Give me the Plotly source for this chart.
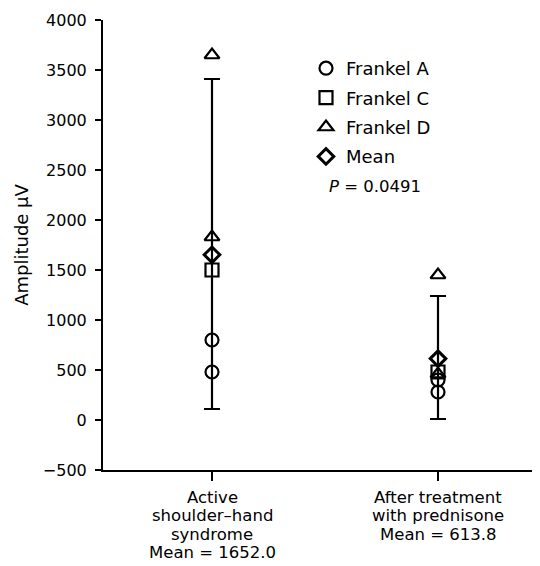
import plotly.graph_objects as go

categories = [["Active", "shoulder\u2013hand", "syndrome", "Mean = 1652.0"],
              ["After treatment", "with prednisone", "Mean = 613.8"]]
cat_pos = [0, 1]

frankel_a = [[800, 480], [400, 280]]
frankel_c = [[1500], [480]]
frankel_d = [[3650, 1830], [1450, 460]]
means = [1652.0, 613.8]
err_top = [3410, 1240]
err_bottom = [110, 10]

y_ticks = [-500, 0, 500, 1000, 1500, 2000, 2500, 3000, 3500, 4000]

FONT = "DejaVu Sans, Liberation Sans, Arial, sans-serif"
OFF = 8  # page body margin offset

def flatten(groups):
    xs, ys = [], []
    for p, vals in zip(cat_pos, groups):
        for v in vals:
            xs.append(p); ys.append(v)
    return xs, ys

fig = go.Figure()

fig.add_trace(go.Scatter(
    x=cat_pos, y=means, mode="markers", marker=dict(size=1, color="rgba(0,0,0,0)"),
    showlegend=False, hoverinfo="skip",
    error_y=dict(type="data", symmetric=False,
                 array=[t - m for t, m in zip(err_top, means)],
                 arrayminus=[m - b for m, b in zip(means, err_bottom)],
                 color="black", thickness=2.2, width=8)))

for name, groups, sym, size in [("Frankel A", frankel_a, "circle-open", 13),
                                ("Frankel C", frankel_c, "square-open", 13),
                                ("Frankel D", frankel_d, "triangle-up-open", 13)]:
    xs, ys = flatten(groups)
    fig.add_trace(go.Scatter(x=xs, y=ys, mode="markers", name=name,
                             legendgroup=name,
                             marker=dict(symbol=sym, size=size, color="black",
                                         line=dict(color="black", width=2.2))))

fig.add_trace(go.Scatter(x=cat_pos, y=means, mode="markers", name="Mean", legendgroup="Mean",
                         marker=dict(symbol="diamond-open", size=12, color="black",
                                     line=dict(color="black", width=3))))

fig.add_annotation(xref="paper", yref="paper", x=(327 - 103) / 437, y=(470 - 186) / 450,
                   xanchor="left", yanchor="middle", showarrow=False,
                   text="<i>P</i> = 0.0491", font=dict(size=16.5, color="black", family=FONT))

for p, lines in zip(cat_pos, categories):
    for i, line in enumerate(lines):
        fig.add_annotation(xref="x", yref="paper", x=p, y=0, xanchor="center", yanchor="middle",
                           yshift=-(497 + 18.5 * i - 470), showarrow=False, text=line,
                           font=dict(size=16.5, color="black", family=FONT))

fig.update_layout(
    width=540 - OFF, height=566 - OFF,
    margin=dict(l=103 - OFF, r=0, t=20 - OFF, b=96, autoexpand=False),
    plot_bgcolor="white", paper_bgcolor="white",
    font=dict(family=FONT, color="black", size=16),
    legend=dict(x=(306 - 103) / 437, y=(470 - 50) / 450, xanchor="left", yanchor="top",
                font=dict(size=18, family=FONT), tracegroupgap=3, bgcolor="rgba(0,0,0,0)",
                itemwidth=30),
    showlegend=True,
)
fig.update_xaxes(range=[-109 / 226, 1 + 102 / 226], tickvals=cat_pos,
                 ticktext=["", ""], automargin=False,
                 showgrid=False, zeroline=False, showline=True, linecolor="black", linewidth=2,
                 ticks="outside", ticklen=9, tickwidth=2, tickcolor="black")
fig.update_yaxes(range=[-500, 4000], tickvals=y_ticks, showgrid=False, zeroline=False,
                 automargin=False,
                 showline=True, linecolor="black", linewidth=2,
                 ticks="outside", ticklen=6, tickwidth=2, tickcolor="black",
                 ticklabelstandoff=5,
                 title=dict(text="Amplitude \u00b5V", font=dict(size=18, family=FONT), standoff=10),
                 tickfont=dict(size=16, family=FONT))

fig.write_html("out.html")
